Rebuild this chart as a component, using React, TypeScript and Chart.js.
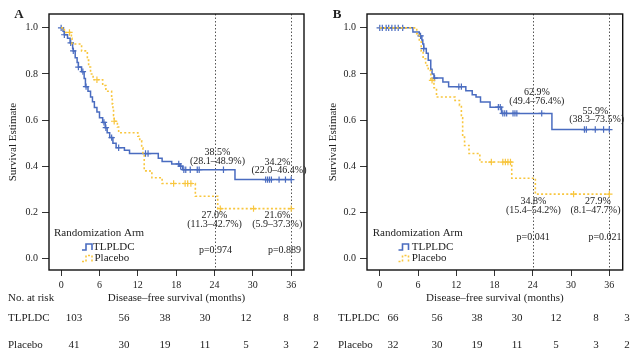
import React, { useEffect, useRef } from 'react';
import { Chart, registerables } from 'chart.js';

Chart.register(...registerables);

// ---------- shared axis data ----------
const MONTH_TICKS = [0, 6, 12, 18, 24, 30, 36];
const SURV_TICKS = [0, 0.2, 0.4, 0.6, 0.8, 1.0];
const ARM_NAMES = ['TLPLDC', 'Placebo'];
const LANDMARKS = [24, 36];

// ---------- panel A ----------
const A_TLPLDC_TIME = [0, 0.3, 0.5, 1.0, 1.4, 1.8, 1.9, 2.2, 2.5, 2.7, 3.2, 3.6, 3.8, 4.2, 4.6, 4.9, 5.2, 5.6, 6.0, 6.5, 6.9, 7.2, 7.6, 8.1, 8.6, 9.9, 10.7, 15.2, 15.8, 17.3, 18.5, 19.0, 27.2, 36];
const A_TLPLDC_SURV = [1, 0.985, 0.97, 0.955, 0.935, 0.91, 0.9, 0.87, 0.85, 0.83, 0.81, 0.78, 0.745, 0.725, 0.7, 0.68, 0.655, 0.635, 0.61, 0.59, 0.567, 0.545, 0.524, 0.5, 0.48, 0.469, 0.455, 0.435, 0.42, 0.41, 0.4, 0.385, 0.342, 0.342];
const A_TLPLDC_CENSOR = [0, 0.5, 1.5, 1.9, 2.7, 3.4, 3.9, 6.7, 7.0, 7.9, 9.0, 13.2, 13.6, 18.4, 18.7, 19.2, 19.5, 20.2, 21.3, 21.6, 25.4, 32.0, 32.3, 32.6, 32.9, 34.1, 35.1, 36];
const A_PLACEBO_TIME = [0, 0.5, 1.6, 1.7, 3.2, 4.1, 4.3, 4.6, 5.0, 6.5, 7.0, 7.9, 8.0, 8.1, 8.2, 8.3, 8.8, 9.0, 12.0, 12.3, 12.6, 12.8, 13.0, 13.9, 14.2, 15.8, 21.0, 24.5, 36];
const A_PLACEBO_SURV = [1, 0.98, 0.955, 0.93, 0.9, 0.86, 0.83, 0.8, 0.775, 0.75, 0.725, 0.7, 0.67, 0.645, 0.62, 0.595, 0.57, 0.545, 0.53, 0.51, 0.48, 0.45, 0.38, 0.37, 0.35, 0.325, 0.27, 0.216, 0.216];
const A_PLACEBO_CENSOR = [1.3, 5.6, 8.3, 17.6, 19.4, 19.8, 20.3, 24.9, 30.1, 36];
const A_RISK_TLPLDC = [103, 56, 38, 30, 12, 8, 8];
const A_RISK_PLACEBO = [41, 30, 19, 11, 5, 3, 2];
const A_EST_TLPLDC = [['38.5%', '(28.1–48.9%)'], ['34.2%', '(22.0–46.4%)']];
const A_EST_PLACEBO = [['27.0%', '(11.3–42.7%)'], ['21.6%', '(5.9–37.3%)']];
const A_PVALUES = ['p=0.974', 'p=0.889'];

// ---------- panel B ----------
const B_TLPLDC_TIME = [0, 5.2, 6.2, 6.6, 6.75, 6.9, 7.3, 7.6, 8.0, 8.2, 8.5, 9.9, 10.8, 13.5, 14.5, 15.1, 15.8, 17.3, 19.1, 27.0, 36];
const B_TLPLDC_SURV = [1, 0.982, 0.965, 0.947, 0.93, 0.91, 0.89, 0.86, 0.82, 0.8, 0.782, 0.765, 0.745, 0.727, 0.71, 0.7, 0.678, 0.656, 0.629, 0.559, 0.559];
const B_TLPLDC_CENSOR = [0, 0.4, 1.0, 1.4, 1.9, 2.4, 2.9, 3.6, 6.4, 6.9, 8.6, 12.4, 12.8, 18.6, 18.9, 19.3, 19.6, 19.9, 20.9, 21.2, 21.5, 25.4, 32.1, 32.4, 33.8, 35.1, 36];
const B_PLACEBO_TIME = [0, 5.8, 6.2, 6.5, 6.8, 7.2, 7.6, 8.0, 8.5, 8.9, 11.8, 12.5, 12.8, 13.0, 13.3, 14.0, 15.7, 20.7, 24.4, 36];
const B_PLACEBO_SURV = [1, 0.975, 0.94, 0.9, 0.866, 0.837, 0.815, 0.772, 0.74, 0.7, 0.685, 0.664, 0.61, 0.526, 0.49, 0.455, 0.418, 0.348, 0.279, 0.279];
const B_PLACEBO_CENSOR = [8.2, 17.5, 19.3, 19.7, 20.1, 20.5, 30.4, 36];
const B_RISK_TLPLDC = [66, 56, 38, 30, 12, 8, 3];
const B_RISK_PLACEBO = [32, 30, 19, 11, 5, 3, 2];
const B_EST_TLPLDC = [['62.9%', '(49.4–76.4%)'], ['55.9%', '(38.3–73.5%)']];
const B_EST_PLACEBO = [['34.8%', '(15.4–54.2%)'], ['27.9%', '(8.1–47.7%)']];
const B_PVALUES = ['p=0.041', 'p=0.021'];

// ---------- styles ----------
const SERIF = '"Liberation Serif", "DejaVu Serif", serif';
const BLUE = '#4a6cc0';
const YELLOW = '#f8c63f';
const TEXT = '#222';

type Layout = {
  chartLeft: number; chartRight: number;
  xMin: number; xMax: number;
  letterX: number;
  tlEst: { dx: number[]; y: number[] }[];
  plEst: { dx: number[]; y: number[] }[];
  pv: { dx: number; y: number }[];
  legendX: number; legendIconX: number; legendTextX: number[];
  riskLabelX: number; riskX: number[];
};

type Panel = {
  letter: string;
  tlT: number[]; tlS: number[]; tlC: number[];
  plT: number[]; plS: number[]; plC: number[];
  riskTl: number[]; riskPl: number[];
  estTl: string[][]; estPl: string[][]; pv: string[];
  layout: Layout;
};

const PANELS: Panel[] = [
  {
    letter: 'A',
    tlT: A_TLPLDC_TIME, tlS: A_TLPLDC_SURV, tlC: A_TLPLDC_CENSOR,
    plT: A_PLACEBO_TIME, plS: A_PLACEBO_SURV, plC: A_PLACEBO_CENSOR,
    riskTl: A_RISK_TLPLDC, riskPl: A_RISK_PLACEBO,
    estTl: A_EST_TLPLDC, estPl: A_EST_PLACEBO, pv: A_PVALUES,
    layout: {
      chartLeft: 49, chartRight: 304, xMin: -1.9, xMax: 38.0, letterX: 19,
      tlEst: [{ dx: [3, 3], y: [152, 161] }, { dx: [-13.7, -12.2], y: [162, 170] }],
      plEst: [{ dx: [0, 0], y: [215, 224] }, { dx: [-13.7, -14], y: [215, 224] }],
      pv: [{ dx: 1, y: 250 }, { dx: -6.7, y: 250 }],
      legendX: 54, legendIconX: 82, legendTextX: [93, 94.5],
      riskLabelX: 8, riskX: [74, 124, 165, 205, 246, 286, 316],
    },
  },
  {
    letter: 'B',
    tlT: B_TLPLDC_TIME, tlS: B_TLPLDC_SURV, tlC: B_TLPLDC_CENSOR,
    plT: B_PLACEBO_TIME, plS: B_PLACEBO_SURV, plC: B_PLACEBO_CENSOR,
    riskTl: B_RISK_TLPLDC, riskPl: B_RISK_PLACEBO,
    estTl: B_EST_TLPLDC, estPl: B_EST_PLACEBO, pv: B_PVALUES,
    layout: {
      chartLeft: 47, chartRight: 302.7, xMin: -2.0, xMax: 38.1, letterX: 17,
      tlEst: [{ dx: [4, 4], y: [92.7, 101.7] }, { dx: [-14, -12.6], y: [111.7, 119.3] }],
      plEst: [{ dx: [0.6, 0.6], y: [201.7, 210.7] }, { dx: [-11.3, -13.8], y: [201.7, 210.7] }],
      pv: [{ dx: 0.3, y: 237.7 }, { dx: -4.3, y: 237.7 }],
      legendX: 52.7, legendIconX: 78.5, legendTextX: [91.7, 91.7],
      riskLabelX: 18, riskX: [73, 117, 157, 197, 236, 276, 307],
    },
  },
];

const W = 320;
const H = 351;
const TOP = 14;
const BOTTOM = 270;

function survAt(times: number[], surv: number[], t: number) {
  let v = surv[0];
  for (let i = 0; i < times.length; i++) if (times[i] <= t) v = surv[i];
  return v;
}

function overlayPlugin(p: Panel) {
  const L = p.layout;
  return {
    id: 'overlay' + p.letter,
    beforeDatasetsDraw(chart: any) {
      const { ctx, chartArea: ca, scales } = chart;
      ctx.save();
      ctx.strokeStyle = '#555';
      ctx.lineWidth = 1;
      ctx.setLineDash([1.5, 2]);
      for (const t of LANDMARKS) {
        const px = Math.round(scales.x.getPixelForValue(t)) + 0.5;
        ctx.beginPath();
        ctx.moveTo(px, ca.top);
        ctx.lineTo(px, ca.bottom);
        ctx.stroke();
      }
      ctx.restore();
    },
    afterDraw(chart: any) {
      const { ctx, chartArea: ca, scales } = chart;
      ctx.save();
      // box
      ctx.strokeStyle = '#111';
      ctx.lineWidth = 1.4;
      ctx.strokeRect(ca.left, ca.top, ca.right - ca.left, ca.bottom - ca.top);

      ctx.fillStyle = TEXT;
      ctx.textBaseline = 'middle';

      // panel letter
      ctx.font = `bold 13px ${SERIF}`;
      ctx.textAlign = 'center';
      ctx.fillText(p.letter, L.letterX, 15);

      // annotations
      ctx.font = `10px ${SERIF}`;
      LANDMARKS.forEach((t, i) => {
        const lx = scales.x.getPixelForValue(t);
        p.estTl[i].forEach((s, j) => ctx.fillText(s, lx + L.tlEst[i].dx[j], L.tlEst[i].y[j]));
        p.estPl[i].forEach((s, j) => ctx.fillText(s, lx + L.plEst[i].dx[j], L.plEst[i].y[j]));
        ctx.fillText(p.pv[i], lx + L.pv[i].dx, L.pv[i].y);
      });

      // legend
      ctx.textAlign = 'left';
      ctx.font = `11px ${SERIF}`;
      ctx.fillText('Randomization Arm', L.legendX, 233);
      const rows = [247, 258.5];
      ARM_NAMES.forEach((name, i) => {
        const y = rows[i];
        const x0 = L.legendIconX;
        ctx.save();
        ctx.strokeStyle = i === 0 ? BLUE : YELLOW;
        ctx.lineWidth = 1.6;
        if (i === 1) ctx.setLineDash([2, 2]);
        ctx.beginPath();
        ctx.moveTo(x0, y + 3);
        ctx.lineTo(x0 + 4, y + 3);
        ctx.lineTo(x0 + 4, y - 3);
        ctx.lineTo(x0 + 10, y - 3);
        ctx.lineTo(x0 + 10, y + 3);
        ctx.stroke();
        ctx.restore();
        ctx.fillStyle = TEXT;
        ctx.fillText(name, L.legendTextX[i], y);
      });

      // axis titles
      ctx.textAlign = 'center';
      ctx.fillText('Disease–free survival (months)', (ca.left + ca.right) / 2, 298);
      ctx.save();
      ctx.translate(13, (ca.top + ca.bottom) / 2);
      ctx.rotate(-Math.PI / 2);
      ctx.fillText('Survival Estimate', 0, 0);
      ctx.restore();

      // risk table
      ctx.textAlign = 'left';
      if (p.letter === 'A') ctx.fillText('No. at risk', 8, 298);
      const riskRows = [p.riskTl, p.riskPl];
      const riskY = [318, 345];
      riskRows.forEach((vals, i) => {
        ctx.textAlign = 'left';
        ctx.fillText(ARM_NAMES[i], L.riskLabelX, riskY[i]);
        ctx.textAlign = 'center';
        vals.forEach((v, j) => ctx.fillText(String(v), L.riskX[j], riskY[i]));
      });
      ctx.restore();
    },
  };
}

function KMPanel({ panel }: { panel: Panel }) {
  const ref = useRef<HTMLCanvasElement | null>(null);
  useEffect(() => {
    if (!ref.current) return;
    const L = panel.layout;
    const line = (t: number[], s: number[]) => t.map((x, i) => ({ x, y: s[i] }));
    const cens = (c: number[], t: number[], s: number[]) => c.map((x) => ({ x, y: survAt(t, s, x) }));
    const chart = new Chart(ref.current, {
      type: 'line',
      data: {
        datasets: [
          {
            label: 'Placebo',
            data: line(panel.plT, panel.plS),
            borderColor: YELLOW,
            borderWidth: 1.6,
            borderDash: [2, 2.2],
            stepped: 'before',
            pointRadius: 0,
            fill: false,
          },
          {
            label: 'Placebo censored',
            data: cens(panel.plC, panel.plT, panel.plS),
            showLine: false,
            pointStyle: 'cross',
            pointRadius: 3.2,
            pointBorderWidth: 1.2,
            borderColor: YELLOW,
            backgroundColor: YELLOW,
          },
          {
            label: 'TLPLDC',
            data: line(panel.tlT, panel.tlS),
            borderColor: BLUE,
            borderWidth: 1.5,
            stepped: 'before',
            pointRadius: 0,
            fill: false,
          },
          {
            label: 'TLPLDC censored',
            data: cens(panel.tlC, panel.tlT, panel.tlS),
            showLine: false,
            pointStyle: 'cross',
            pointRadius: 3.2,
            pointBorderWidth: 1.2,
            borderColor: BLUE,
            backgroundColor: BLUE,
          },
        ],
      } as any,
      options: {
        animation: false,
        responsive: false,
        maintainAspectRatio: false,
        events: [],
        layout: { padding: { top: TOP, right: W - L.chartRight, left: 0, bottom: 0 } },
        plugins: { legend: { display: false }, tooltip: { enabled: false } },
        scales: {
          x: {
            type: 'linear',
            min: L.xMin,
            max: L.xMax,
            afterBuildTicks: (s: any) => { s.ticks = MONTH_TICKS.map((v) => ({ value: v })); },
            afterFit: (s: any) => { s.height = H - BOTTOM; },
            grid: { drawOnChartArea: false, drawTicks: true, tickLength: 6, color: '#333', lineWidth: 1 },
            border: { display: false },
            ticks: { font: { family: SERIF, size: 10 }, color: TEXT, padding: 3, maxRotation: 0, autoSkip: false },
          },
          y: {
            type: 'linear',
            min: -0.05,
            max: 1.06,
            afterBuildTicks: (s: any) => { s.ticks = SURV_TICKS.map((v) => ({ value: v })); },
            afterFit: (s: any) => { s.width = L.chartLeft; },
            grid: { drawOnChartArea: false, drawTicks: true, tickLength: 7, color: '#333', lineWidth: 1 },
            border: { display: false },
            ticks: {
              font: { family: SERIF, size: 10 },
              color: TEXT,
              padding: 4,
              autoSkip: false,
              callback: (v: any) => Number(v).toFixed(1),
            },
          },
        },
      } as any,
      plugins: [overlayPlugin(panel)],
    });
    return () => chart.destroy();
  }, [panel]);
  return <canvas ref={ref} width={W} height={H} style={{ width: W, height: H, display: 'block' }} />;
}

export default function App() {
  return (
    <div style={{ position: 'fixed', left: 0, top: 0, width: 640, height: 351, background: '#fff', display: 'flex' }}>
      {PANELS.map((p) => (
        <KMPanel key={p.letter} panel={p} />
      ))}
    </div>
  );
}
